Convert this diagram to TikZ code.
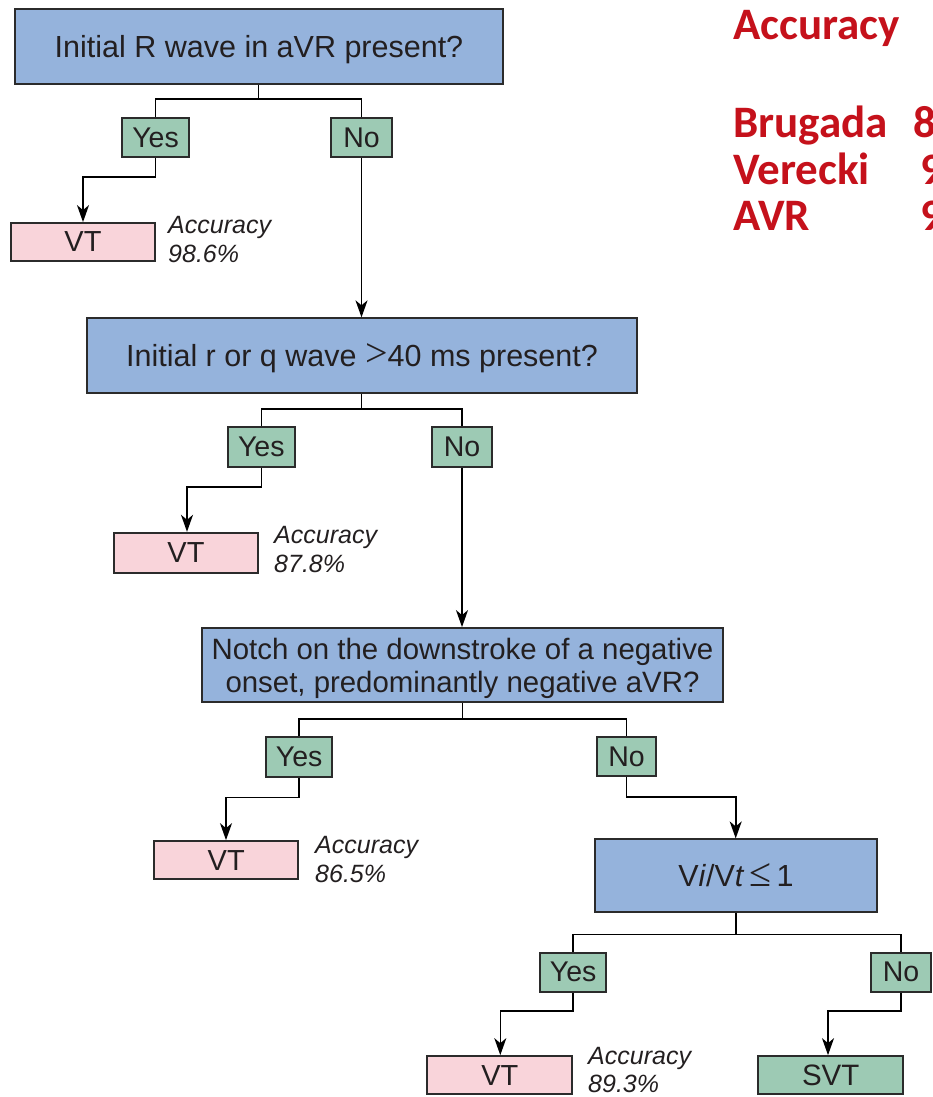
\documentclass[tikz,border=0pt]{standalone}
\usepackage{fontspec}
\setmainfont{Liberation Sans}
\newfontfamily\calibri{Carlito}
\newfontfamily\symserif{Liberation Serif}
\newcommand{\bigsym}[1]{{\symserif\fontsize{40}{40}\selectfont #1}}
\usetikzlibrary{arrows.meta}
\definecolor{qblue}{HTML}{95B3DC}
\definecolor{agreen}{HTML}{9DCAB4}
\definecolor{vpink}{HTML}{F9D4DA}
\definecolor{edgec}{HTML}{2B2B2B}
\definecolor{ink}{HTML}{231F20}
\definecolor{accred}{RGB}{197,17,27}
\tikzset{
  box/.style={draw=edgec, line width=1.8pt, inner sep=0pt, text=ink, align=center},
  question/.style={box, fill=qblue, text depth=0pt, font=\fontsize{30.5}{33}\selectfont},
  answer/.style={box, fill=agreen, font=\fontsize{28.5}{32}\selectfont},
  vtbox/.style={box, fill=vpink, font=\fontsize{29}{32}\selectfont},
  svtbox/.style={box, fill=agreen, font=\fontsize{29.5}{32}\selectfont},
  acclabel/.style={anchor=base west, inner sep=0pt, text=ink, font=\fontsize{25}{30}\selectfont\itshape},
  link/.style={line width=1.6pt, draw=black},
  arr/.style={link, -{Stealth[length=17pt,width=12pt,inset=5pt]}},
  redtxt/.style={anchor=base west, inner sep=0pt, text=accred, font=\calibri\bfseries\fontsize{45}{50}\selectfont}
}
\begin{document}
\begin{tikzpicture}[x=1pt, y=-1pt]
\useasboundingbox (0,0) rectangle (933,1097);
\clip (0,0) rectangle (933,1097);
\fill[white] (0,0) rectangle (933,1097);

% red accuracy table (cut off at the right edge, as in the reference)
\node[redtxt] (racc) at (733,40) {Accuracy};
\node[redtxt] (rbru) at (733,137.7) {Brugada};
\node[redtxt] (rbruv) at (913,137.7) {8};
\node[redtxt] (rver) at (733,184) {Verecki};
\node[redtxt] (rverv) at (920,184) {9};
\node[redtxt] (ravr) at (733,230) {AVR};
\node[redtxt] (ravrv) at (920,230) {9};

% level 1
\node[question, minimum width=488pt, minimum height=75pt] (q1) at (259,46.5) {Initial R wave in aVR present?};
\node[answer, minimum width=67pt, minimum height=39pt] (yes1) at (155.5,137.5) {Yes};
\node[answer, minimum width=61pt, minimum height=39pt] (no1) at (361.5,137.5) {No};
\node[vtbox, minimum width=144pt, minimum height=38pt] (vt1) at (83,242) {VT};
\node[acclabel] (acc1a) at (168,233) {Accuracy};
\node[acclabel] (acc1b) at (168,262) {98.6\%};

% level 2
\node[question, minimum width=550pt, minimum height=74.5pt] (q2) at (362,355.5) {Initial r or q wave \bigsym{>}40 ms present?};
\node[answer, minimum width=66.7pt, minimum height=39.4pt] (yes2) at (261.3,447) {Yes};
\node[answer, minimum width=59.7pt, minimum height=39.4pt] (no2) at (462,447) {No};
\node[vtbox, minimum width=144pt, minimum height=40pt] (vt2) at (186,552.7) {VT};
\node[acclabel] (acc2a) at (274,543) {Accuracy};
\node[acclabel] (acc2b) at (274,572) {87.8\%};

% level 3
\node[question, font=\fontsize{29.4}{33}\selectfont, minimum width=521pt, minimum height=74pt] (q3) at (462.5,665) {Notch on the downstroke of a negative\\onset, predominantly negative aVR?};
\node[answer, minimum width=66.3pt, minimum height=39.4pt] (yes3) at (299.2,757) {Yes};
\node[answer, minimum width=59.6pt, minimum height=38.7pt] (no3) at (626.5,756.7) {No};
\node[vtbox, minimum width=143.7pt, minimum height=38.3pt] (vt3) at (226.2,860.2) {VT};
\node[acclabel] (acc3a) at (315,853) {Accuracy};
\node[acclabel] (acc3b) at (315,882) {86.5\%};

% level 4
\node[question, minimum width=282.3pt, minimum height=72.4pt] (q4) at (735.9,875.5) {V\textit{i}/V\textit{t}\,\bigsym{≤}\,1};
\node[answer, minimum width=66.3pt, minimum height=39pt] (yes4) at (573.2,972.2) {Yes};
\node[answer, minimum width=60pt, minimum height=39pt] (no4) at (901,972.2) {No};
\node[vtbox, minimum width=145pt, minimum height=38.3pt] (vt4) at (499.8,1075.2) {VT};
\node[svtbox, minimum width=144.7pt, minimum height=38.3pt] (svt) at (830.7,1075.2) {SVT};
\node[acclabel] (acc4a) at (588,1064) {Accuracy};
\node[acclabel] (acc4b) at (588,1092) {89.3\%};

% junction coordinates
\coordinate (j1) at (258.5,99);
\coordinate (k1) at (83,177);
\coordinate (j2) at (361.5,408.7);
\coordinate (k2) at (187,486.7);
\coordinate (j3) at (462.3,719);
\coordinate (k3) at (226,797.3);
\coordinate (m3) at (735.7,797);
\coordinate (j4) at (736,934.3);
\coordinate (k4) at (500.3,1011);
\coordinate (m4) at (828,1011);

% connectors level 1
\draw[link] (q1.south -| j1) -- (j1);
\draw[link] (yes1.north) |- (j1) -| (no1.north);
\draw[arr] (yes1.south) |- (k1) -- (vt1.north -| k1);
\draw[arr] (no1.south) -- (no1.south |- q2.north);

% connectors level 2
\draw[link] (q2.south -| j2) -- (j2);
\draw[link] (yes2.north) |- (j2) -| (no2.north);
\draw[arr] (yes2.south) |- (k2) -- (vt2.north -| k2);
\draw[arr] (no2.south) -- (no2.south |- q3.north);

% connectors level 3
\draw[link] (q3.south -| j3) -- (j3);
\draw[link] (yes3.north) |- (j3) -| (no3.north);
\draw[arr] (yes3.south) |- (k3) -- (vt3.north -| k3);
\draw[arr] (no3.south) |- (m3) -- (q4.north -| m3);

% connectors level 4
\draw[link] (q4.south -| j4) -- (j4);
\draw[link] (yes4.north) |- (j4) -| (no4.north);
\draw[arr] (yes4.south) |- (k4) -- (vt4.north -| k4);
\draw[arr] (no4.south) |- (m4) -- (svt.north -| m4);
\end{tikzpicture}
\end{document}
